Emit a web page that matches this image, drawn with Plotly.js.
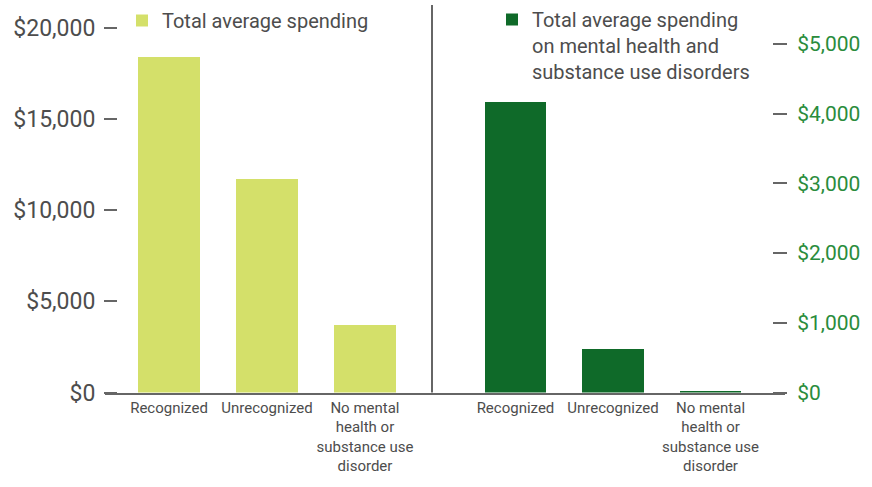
<!DOCTYPE html>
<html>
<head>
<meta charset="utf-8">
<script src="https://cdn.plot.ly/plotly-3.0.1.min.js"></script>
<style>html,body{margin:0;padding:0;background:#fff;}#chart{width:872px;height:487px;}</style>
</head>
<body>
<div id="chart"></div>
<script>
// Data
var categories = ["Recognized", "Unrecognized", "No mental<br>health or<br>substance use<br>disorder"];
var totalSpending = [18400, 11700, 3700];
var mhsudSpending = [4170, 625, 25];
var leftTicks = [0, 5000, 10000, 15000, 20000];
var leftTickLabels = ["$0", "$5,000", "$10,000", "$15,000", "$20,000"];
var rightTicks = [0, 1000, 2000, 3000, 4000, 5000];
var rightTickLabels = ["$0", "$1,000", "$2,000", "$3,000", "$4,000", "$5,000"];
var seriesNames = ["Total average spending", "Total average spending<br>on mental health and<br>substance use disorders"];

var W = 872, H = 487;
function px(x) { return x / W; }
function py(y) { return (H - y) / H; }

var lightGreen = "#d4e06a";
var darkGreen = "#0f6a29";
var greenText = "#2a8c3c";
var grayText = "#4d4d4d";
var lineGray = "#666666";
var FONT = "Roboto, 'Noto Sans', sans-serif";

var traces = [
  {
    type: "bar", x: categories, y: totalSpending, name: seriesNames[0],
    xaxis: "x", yaxis: "y", width: 0.63,
    marker: {color: lightGreen}, legend: "legend", hoverinfo: "y"
  },
  {
    type: "bar", x: categories, y: mhsudSpending, name: seriesNames[1],
    xaxis: "x2", yaxis: "y2", width: 0.63,
    marker: {color: darkGreen}, legend: "legend2", hoverinfo: "y"
  }
];

var layout = {
  width: W, height: H,
  margin: {l: 0, r: 0, t: 0, b: 0},
  paper_bgcolor: "#ffffff", plot_bgcolor: "rgba(0,0,0,0)",
  font: {family: FONT, color: grayText},
  showlegend: true,
  bargap: 0,
  xaxis: {
    domain: [px(105), px(432)], anchor: "y",
    type: "category", range: [-0.653, 2.684],
    showline: true, linecolor: lineGray, linewidth: 2,
    showgrid: false, zeroline: false, ticks: "",
    tickfont: {size: 15, color: grayText}, ticklabelstandoff: 0,
    fixedrange: true
  },
  xaxis2: {
    domain: [px(432), px(785)], anchor: "y2",
    type: "category", range: [-0.856, 2.764],
    showline: true, linecolor: lineGray, linewidth: 2,
    showgrid: false, zeroline: false, ticks: "",
    tickfont: {size: 15, color: grayText}, ticklabelstandoff: 0,
    fixedrange: true
  },
  yaxis: {
    domain: [py(392.5), py(28)], anchor: "free", position: px(117),
    range: [0, 20000], tickmode: "array", tickvals: leftTicks, ticktext: leftTickLabels,
    showline: false, showgrid: false, zeroline: false,
    ticks: "outside", ticklen: 13, tickwidth: 2, tickcolor: lineGray,
    tickfont: {size: 23, color: grayText}, ticklabelstandoff: 4,
    fixedrange: true
  },
  yaxis2: {
    domain: [py(392.5), py(44)], anchor: "free", position: px(772), side: "right",
    range: [0, 5000], tickmode: "array", tickvals: rightTicks, ticktext: rightTickLabels,
    showline: false, showgrid: false, zeroline: false,
    ticks: "outside", ticklen: 14, tickwidth: 2, tickcolor: lineGray,
    tickfont: {size: 21, color: greenText}, ticklabelstandoff: 6,
    fixedrange: true
  },
  legend: {
    x: px(122), xanchor: "left", y: py(1), yanchor: "top",
    bgcolor: "rgba(0,0,0,0)", font: {size: 20, color: grayText},
    valign: "top", itemclick: false, itemdoubleclick: false
  },
  legend2: {
    x: px(492), xanchor: "left", y: py(0), yanchor: "top",
    bgcolor: "rgba(0,0,0,0)", font: {size: 20, color: grayText},
    valign: "top", itemclick: false, itemdoubleclick: false
  },
  shapes: [
    {type: "line", xref: "paper", yref: "paper",
     x0: px(432), x1: px(432), y0: py(392.5), y1: py(5),
     line: {color: lineGray, width: 2}}
  ]
};

Plotly.newPlot("chart", traces, layout, {displayModeBar: false, staticPlot: true});
</script>
</body>
</html>
